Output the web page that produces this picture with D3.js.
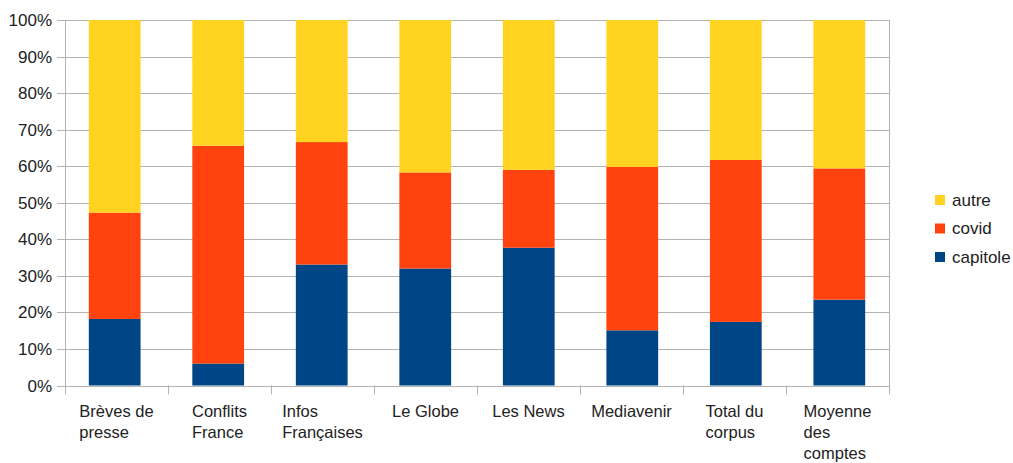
<!DOCTYPE html>
<html>
<head>
<meta charset="utf-8">
<script src="https://cdn.jsdelivr.net/npm/d3@7"></script>
<style>
  body { margin: 0; background: #fff; }
  svg { display: block; font-family: "Liberation Sans", Arial, sans-serif; }
</style>
</head>
<body>
<div id="chart"></div>
<script>
// données ---------------------------------------------------------------
const categories = [
  ['Brèves de', 'presse'],
  ['Conflits', 'France'],
  ['Infos', 'Françaises'],
  ['Le Globe'],
  ['Les News'],
  ['Mediavenir'],
  ['Total du', 'corpus'],
  ['Moyenne', 'des', 'comptes']
];
const capitole = [0.182, 0.060, 0.331, 0.320, 0.377, 0.151, 0.174, 0.235];
const covid    = [0.291, 0.596, 0.335, 0.263, 0.213, 0.447, 0.443, 0.359];
const autre    = capitole.map((c, i) => 1 - c - covid[i]);
const seriesNames = ['capitole', 'covid', 'autre'];
const seriesColors = ['#004586', '#ff420e', '#ffd320'];
const yTicks = [0, 0.1, 0.2, 0.3, 0.4, 0.5, 0.6, 0.7, 0.8, 0.9, 1];

// dimensions -------------------------------------------------------------
const width = 1013, height = 463;
const mLeft = 65, mRight = 889, mTop = 20, mBottom = 385.5;

const svg = d3.select('#chart').append('svg')
  .attr('width', width)
  .attr('height', height);

const x = d3.scaleBand()
  .domain(d3.range(categories.length))
  .range([mLeft, mRight])
  .paddingInner(0.5)
  .paddingOuter(0.23);
const xb = d3.scaleBand()
  .domain(d3.range(categories.length))
  .range([mLeft, mRight]);
const y = d3.scaleLinear().domain([0, 1]).range([mBottom, mTop]);

// grille -----------------------------------------------------------------
svg.append('g')
  .selectAll('line')
  .data(yTicks)
  .enter()
  .append('line')
  .attr('x1', mLeft - 8)
  .attr('x2', mRight)
  .attr('y1', d => Math.round(y(d)) + 0.5)
  .attr('y2', d => Math.round(y(d)) + 0.5)
  .attr('stroke', '#b3b3b3')
  .attr('stroke-width', 1);

svg.append('g')
  .selectAll('text')
  .data(yTicks)
  .enter()
  .append('text')
  .attr('x', 52)
  .attr('y', d => y(d) + 6)
  .attr('text-anchor', 'end')
  .attr('font-size', '17px')
  .attr('fill', '#222')
  .text(d => d3.format('.0%')(d));

// barres empilées -----------------------------------------------------------
const table = categories.map((c, i) => ({ capitole: capitole[i], covid: covid[i], autre: autre[i] }));
const stack = d3.stack().keys(seriesNames)(table);

svg.append('g')
  .selectAll('g')
  .data(stack)
  .enter()
  .append('g')
  .attr('fill', (d, i) => seriesColors[i])
  .selectAll('rect')
  .data(d => d)
  .enter()
  .append('rect')
  .attr('x', (d, i) => x(i))
  .attr('width', x.bandwidth())
  .attr('y', d => y(d[1]))
  .attr('height', d => y(d[0]) - y(d[1]));

// axes -------------------------------------------------------------------
svg.append('line')
  .attr('x1', mLeft + 0.5).attr('x2', mLeft + 0.5)
  .attr('y1', mTop).attr('y2', mBottom + 9)
  .attr('stroke', '#b3b3b3');
svg.append('line')
  .attr('x1', mRight + 0.5).attr('x2', mRight + 0.5)
  .attr('y1', mTop).attr('y2', mBottom + 9)
  .attr('stroke', '#b3b3b3');
svg.append('g')
  .selectAll('line')
  .data(d3.range(1, categories.length))
  .enter()
  .append('line')
  .attr('x1', d => Math.round(xb(d)) + 0.5)
  .attr('x2', d => Math.round(xb(d)) + 0.5)
  .attr('y1', mBottom)
  .attr('y2', mBottom + 9)
  .attr('stroke', '#b3b3b3');

// libellés des catégories ---------------------------------------------------
const labels = svg.append('g')
  .selectAll('text')
  .data(categories)
  .enter()
  .append('text')
  .attr('font-size', '16.5px')
  .attr('fill', '#222');
labels.each(function (lines) {
  const t = d3.select(this);
  lines.forEach((l, j) => {
    t.append('tspan').attr('y', 417 + j * 21).text(l);
  });
});
labels.each(function (lines, i) {
  const w = d3.max(d3.select(this).selectAll('tspan').nodes(), n => n.getComputedTextLength());
  const sx = xb(i) + xb.bandwidth() / 2 - w / 2;
  d3.select(this).selectAll('tspan').attr('x', sx);
});

// légende -----------------------------------------------------------------
const legendOrder = [2, 1, 0];
const legend = svg.append('g')
  .selectAll('g')
  .data(legendOrder)
  .enter()
  .append('g')
  .attr('transform', (d, i) => 'translate(935,' + (195 + i * 28.5) + ')');
legend.append('rect')
  .attr('width', 10)
  .attr('height', 10)
  .attr('fill', d => seriesColors[d]);
legend.append('text')
  .attr('x', 17)
  .attr('y', 10.5)
  .attr('font-size', '17px')
  .attr('fill', '#222')
  .text(d => seriesNames[d]);
</script>
</body>
</html>
